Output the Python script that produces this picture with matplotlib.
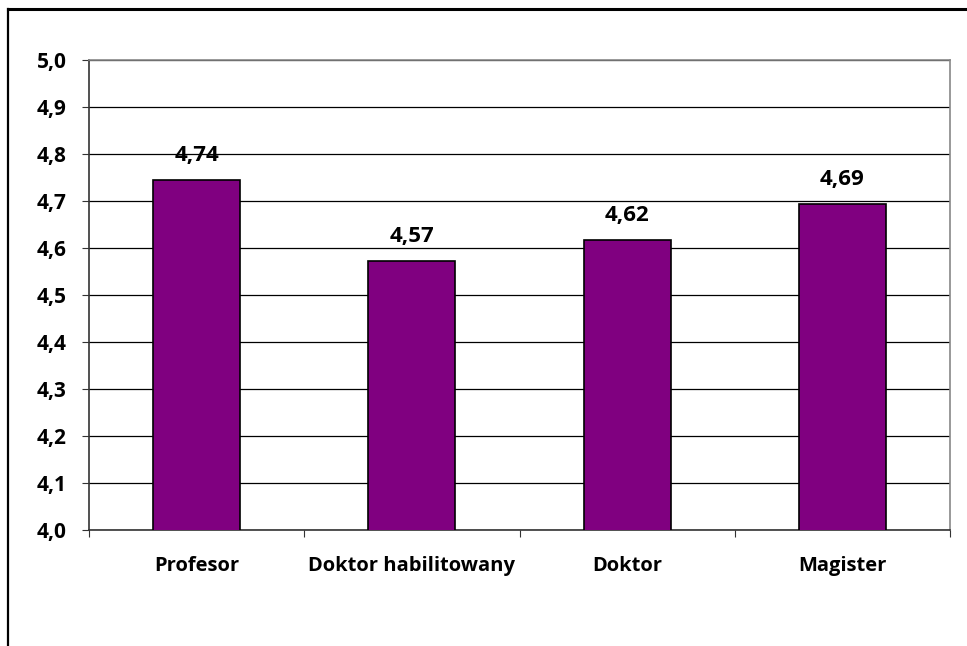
import matplotlib.pyplot as plt
from matplotlib.lines import Line2D

categories = ['Profesor', 'Doktor habilitowany', 'Doktor', 'Magister']
values = [4.745, 4.573, 4.617, 4.693]
labels = ['4,74', '4,57', '4,62', '4,69']
yticks = [4.0, 4.1, 4.2, 4.3, 4.4, 4.5, 4.6, 4.7, 4.8, 4.9, 5.0]

plt.rcParams['font.family'] = ['Open Sans', 'DejaVu Sans']

W, H = 967, 646
fig = plt.figure(figsize=(W/100, H/100), dpi=100)
# plot area in pixels: left 89, right 950, top 60, bottom 530
ax = fig.add_axes([89/W, 1-530/H, (950-89)/W, (530-60)/H])

x = range(len(categories))
ax.bar(x, values, width=0.405, color='#800080', edgecolor='black', linewidth=1.2, zorder=3)
for i, v in enumerate(values):
    ax.text(i, v + 0.03, labels[i], ha='center', va='bottom',
            fontsize=16, fontweight='bold', zorder=4)

ax.set_ylim(4.0, 5.0)
ax.set_xlim(-0.5, len(categories) - 0.5)
ax.set_yticks(yticks)
ax.set_yticklabels([('%.1f' % t).replace('.', ',') for t in yticks],
                   fontsize=15, fontweight='bold')
ax.yaxis.grid(True, color='black', linewidth=0.9, zorder=0)

# category labels centred, tick marks at the boundaries
ax.set_xticks([i - 0.5 for i in range(len(categories) + 1)])
ax.set_xticklabels([])
ax.set_xticks(list(x), minor=True)
ax.set_xticklabels(categories, minor=True, fontsize=14.5, fontweight='bold')
ax.tick_params(axis='x', which='minor', length=0, pad=19)
ax.tick_params(axis='x', which='major', length=5, direction='out', color='#333333')
ax.tick_params(axis='y', length=5, direction='out', pad=11, color='#333333')

for s in ['left', 'bottom']:
    ax.spines[s].set_color('#333333')
    ax.spines[s].set_linewidth(1.2)
for s in ['top', 'right']:
    ax.spines[s].set_color('#888888')
    ax.spines[s].set_linewidth(1.2)

# outer chart frame (cropped on the right and bottom)
fig.add_artist(Line2D([8/W, 8/W], [0, 1-8.5/H], transform=fig.transFigure,
                      color='black', linewidth=1.6))
fig.add_artist(Line2D([8/W, 1], [1-8.5/H, 1-8.5/H], transform=fig.transFigure,
                      color='black', linewidth=2.2))

fig.savefig('out.png', dpi=100)
